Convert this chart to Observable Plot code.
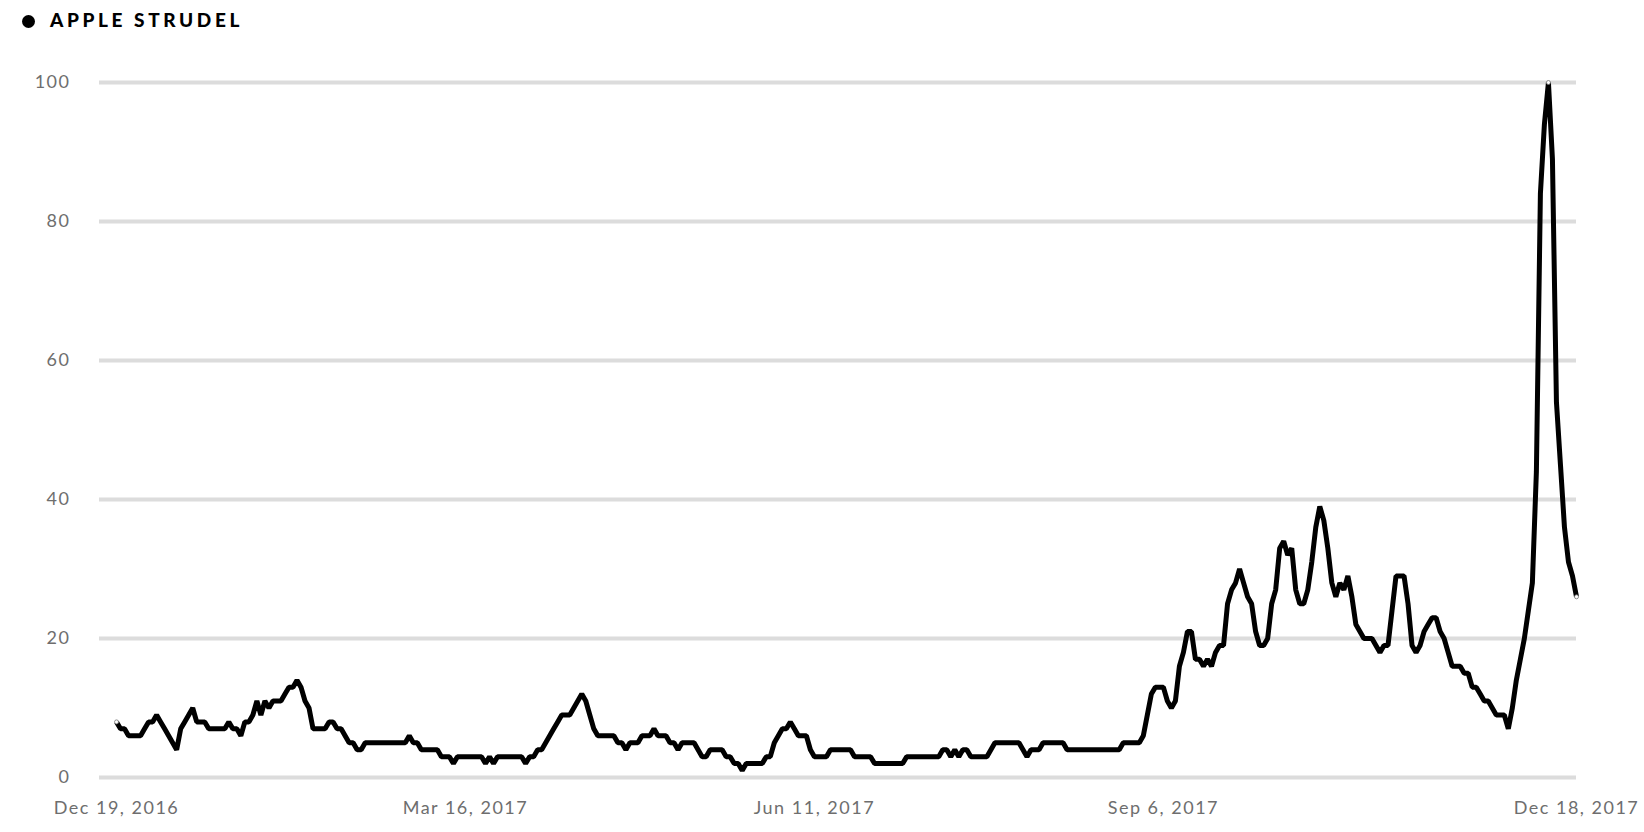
<!DOCTYPE html>
<html>
<head>
<meta charset="utf-8">
<script src="https://cdn.jsdelivr.net/npm/d3@7"></script>
<script src="https://cdn.jsdelivr.net/npm/@observablehq/plot@0.6"></script>
<style>
  html, body { margin: 0; padding: 0; background: #ffffff; }
  #wrap { width: 1644px; height: 832px; position: relative; overflow: hidden; }
  #title { position: relative; height: 40px; }
  #title .dot { position: absolute; left: 22px; top: 15px; width: 13px; height: 13px; border-radius: 50%; background: #000; }
  #title .name { position: absolute; left: 50px; top: 10px; font-family: Lato, "Open Sans", sans-serif; font-weight: 900; font-size: 19px; line-height: 19px; letter-spacing: 3.6px; color: #000; white-space: nowrap; }
  #chart svg text { letter-spacing: 1.5px; }
</style>
</head>
<body>
<div id="wrap">
  <div id="title"><span class="dot"></span><span class="name"></span></div>
  <div id="chart"></div>
</div>
<script>
// ---- data ----
const seriesName = "APPLE STRUDEL";
const startDate = "2016-12-19";
// daily search interest, Dec 19, 2016 -> Dec 18, 2017 (365 days)
const interest = [
  8,7,7,6,6,6,6,7,8,8,
  9,8,7,6,5,4,7,8,9,10,
  8,8,8,7,7,7,7,7,8,7,
  7,6,8,8,9,11,9,11,10,11,
  11,11,12,13,13,14,13,11,10,7,
  7,7,7,8,8,7,7,6,5,5,
  4,4,5,5,5,5,5,5,5,5,
  5,5,5,6,5,5,4,4,4,4,
  4,3,3,3,2,3,3,3,3,3,
  3,3,2,3,2,3,3,3,3,3,
  3,3,2,3,3,4,4,5,6,7,
  8,9,9,9,10,11,12,11,9,7,
  6,6,6,6,6,5,5,4,5,5,
  5,6,6,6,7,6,6,6,5,5,
  4,5,5,5,5,4,3,3,4,4,
  4,4,3,3,2,2,1,2,2,2,
  2,2,3,3,5,6,7,7,8,7,
  6,6,6,4,3,3,3,3,4,4,
  4,4,4,4,3,3,3,3,3,2,
  2,2,2,2,2,2,2,3,3,3,
  3,3,3,3,3,3,4,4,3,4,
  3,4,4,3,3,3,3,3,4,5,
  5,5,5,5,5,5,4,3,4,4,
  4,5,5,5,5,5,5,4,4,4,
  4,4,4,4,4,4,4,4,4,4,
  4,5,5,5,5,5,6,9,12,13,
  13,13,11,10,11,16,18,21,21,17,
  17,16,17,16,18,19,19,25,27,28,
  30,28,26,25,21,19,19,20,25,27,
  33,34,32,33,27,25,25,27,31,36,
  39,37,33,28,26,28,27,29,26,22,
  21,20,20,20,19,18,19,19,24,29,
  29,29,25,19,18,19,21,22,23,23,
  21,20,18,16,16,16,15,15,13,13,
  12,11,11,10,9,9,9,7,10,14,
  17,20,24,28,44,84,94,100,89,54,
  45,36,31,29,26
];
const xTickDates = ["2016-12-19", "2017-03-16", "2017-06-11", "2017-09-06", "2017-12-18"];
const yTicks = [0, 20, 40, 60, 80, 100];

// ---- build ----
document.querySelector("#title .name").textContent = seriesName;

const start = new Date(startDate);
const rows = interest.map((v, i) => ({ date: d3.utcDay.offset(start, i), value: v }));
const first = rows[0], last = rows[rows.length - 1];
const peak = rows.reduce((a, b) => (b.value > a.value ? b : a));

const chart = Plot.plot({
  width: 1644,
  height: 792,
  marginTop: 42,
  marginBottom: 55,
  marginLeft: 99,
  marginRight: 68,
  style: { fontFamily: "Lato, 'Open Sans', sans-serif", fontSize: "18px", color: "#6e6e6e", background: "#ffffff", overflow: "visible" },
  x: {
    type: "utc",
    domain: [first.date, last.date],
    insetLeft: 17,
    ticks: xTickDates.map(d => new Date(d)),
    tickFormat: d3.utcFormat("%b %-d, %Y"),
    tickSize: 0,
    tickPadding: 24,
    label: null
  },
  y: {
    domain: [0, 100],
    ticks: yTicks,
    tickSize: 0,
    tickPadding: 29,
    label: null
  },
  marks: [
    Plot.ruleY(yTicks, { stroke: "#dcdcdc", strokeWidth: 4 }),
    Plot.lineY(rows, { x: "date", y: "value", stroke: "#000", strokeWidth: 5, strokeLinejoin: "miter", strokeLinecap: "butt" }),
    Plot.dot([first, peak, last], { x: "date", y: "value", r: 2, fill: "#fff", stroke: "#777", strokeWidth: 0.8 })
  ]
});
document.getElementById("chart").appendChild(chart);
</script>
</body>
</html>
